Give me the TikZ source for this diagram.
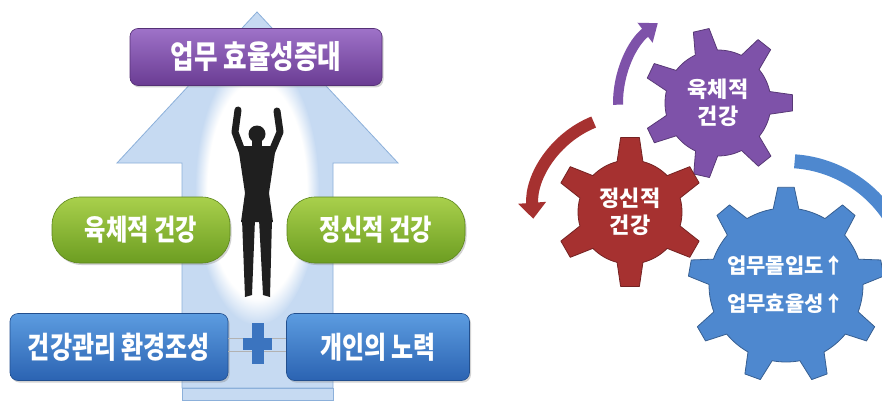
\documentclass[tikz,border=0pt]{standalone}
\usepackage{fontspec}
\setmainfont{Noto Sans CJK KR}
\newfontfamily\krc{Noto Sans CJK KR}[FakeStretch=0.8]
\usetikzlibrary{arrows.meta,shadows,fadings}

\definecolor{arrowfill}{HTML}{C6DAF2}
\definecolor{arrowline}{HTML}{8CB0DA}
\definecolor{violetT}{HTML}{9E72C8}
\definecolor{violetB}{HTML}{6A3C93}
\definecolor{greenT}{HTML}{A9D04C}
\definecolor{greenB}{HTML}{6C9D21}
\definecolor{blueT}{HTML}{5C9CE0}
\definecolor{blueB}{HTML}{2B63B2}
\definecolor{plusblue}{HTML}{3B74BF}
\definecolor{gearviolet}{HTML}{7E52A9}
\definecolor{gearred}{HTML}{A63130}
\definecolor{gearblue}{HTML}{4E88CF}

\tikzset{
  panel/.style={rounded corners=8pt, line width=0.6pt, text=white, inner sep=0pt,
    drop shadow={opacity=0.35, shadow xshift=1.5pt, shadow yshift=-2pt}},
  goalbox/.style={panel, top color=violetT, bottom color=violetB, draw=violetB!80!black,
    minimum width=252pt, minimum height=57pt},
  pill/.style={panel, rounded corners=28pt, top color=greenT, bottom color=greenB,
    draw=greenB!85!black, minimum width=178pt, minimum height=66pt},
  basebox/.style={panel, top color=blueT, bottom color=blueB, draw=blueB!80!black,
    minimum height=67pt},
  boxfont/.style={font=\krc\bfseries\fontsize{#1}{#1}\selectfont},
  geartext/.style={text=white, align=center, font=\bfseries\fontsize{22}{27}\selectfont},
}

% gear: colour, centre, body radius, tip radius, teeth, angle of first tooth
\newcommand{\gear}[6]{%
  \begin{scope}[shift={#2}]
    \pgfmathsetmacro\gp{360/#5}
    \pgfmathsetmacro\gb{0.24*\gp}
    \pgfmathsetmacro\gt{0.12*\gp}
    \filldraw[fill=#1, draw=#1!70!black, line width=0.8pt, line join=round]
      ({#6+\gb}:#3pt)
      \foreach \k [evaluate=\k as \ga using #6+\k*\gp] in {1,...,#5} {
        arc[start angle=\ga-\gp+\gb, end angle=\ga-\gb, radius=#3pt]
        -- ({\ga-\gt}:#4pt) -- ({\ga+\gt}:#4pt) -- ({\ga+\gb}:#3pt)
      } -- cycle;
  \end{scope}}

\begin{document}
\begin{tikzpicture}[x=1pt,y=1pt]
  \useasboundingbox[fill=white] (0,0) rectangle (882,405);

  % big arrow
  \draw[arrowline, fill=arrowfill, line width=0.8pt]
    (182,17) -- (182,242) -- (117,242) -- (257,393) -- (398,242) -- (333,242) -- (333,17) -- cycle;
  \draw[arrowline, fill=arrowfill, line width=0.8pt] (182,5) rectangle (333,17);
  \fill[white, path fading=circle with fuzzy edge 20 percent] (257,215) ellipse (62 and 135);

  % figure with raised arms
  \begin{scope}[black!88]
    \fill (257,271) circle (8.5);
    \fill (252,258) rectangle (262,266);
    \fill (238,259) -- (276,259) -- (269,212) -- (273,183) -- (241,183) -- (245,212) -- cycle;
    \draw[line width=7pt, line cap=round, line join=round] (242,254) -- (235,273) -- (238,295);
    \draw[line width=7pt, line cap=round, line join=round] (272,254) -- (280,273) -- (277,294);
    \fill (242,186) -- (255,186) -- (252,110) -- (245,108) -- cycle;
    \fill (259,186) -- (272,186) -- (270,108) -- (263,110) -- cycle;
  \end{scope}

  % goal and the two kinds of health
  \node[goalbox, boxfont=32] (goal) at (256,348) {업무 효율성증대};
  \node[pill, boxfont=29] (body) at (141,175) {육체적 건강};
  \node[pill, boxfont=29] (mind) at (376,175) {정신적 건강};

  % the base: environment + effort
  \node[basebox, minimum width=218pt, boxfont=30] (env) at (119,58) {건강관리 환경조성};
  \node[basebox, minimum width=183pt, boxfont=30] (effort) at (378,58) {개인의 노력};
  \draw[gray!60, line width=1pt] (env.east |- 0,67) -- (effort.west |- 0,67);
  \draw[gray!60, line width=1pt] (env.east |- 0,54) -- (effort.west |- 0,54);
  \fill[plusblue] (251.5,41) rectangle (263.5,82);
  \fill[plusblue] (243,55) rectangle (272,67);

  % turning arrows round the gears
  \coordinate (cv) at (718,302);
  \coordinate (cr) at (630,193);
  \coordinate (cb) at (786,120);
  \draw[gearviolet, line width=10pt, -{Triangle[length=16pt,width=24pt]}]
    (cv) ++(181:100) arc[start angle=181, end angle=127, radius=100pt];
  \draw[gearred, line width=12pt, -{Triangle[length=16pt,width=27pt]}]
    (cr) ++(112:97) arc[start angle=112, end angle=184, radius=97pt];
  \draw[gearblue, line width=14pt] (cb) ++(86:124) arc[start angle=86, end angle=-20, radius=124pt];

  % gears
  \gear{gearviolet}{(cv)}{53}{75}{7}{103}
  \gear{gearred}{(cr)}{52}{75}{6}{90}
  \gear{gearblue}{(cb)}{77}{98}{9}{90}
  \node[geartext] (physical) at (cv) {육체적\\건강};
  \node[geartext] (mental) at (cr) {정신적\\건강};
  \node[geartext, font=\bfseries\fontsize{21}{38}\selectfont] (work) at (cb) {업무몰입도↑\\업무효율성↑};
\end{tikzpicture}
\end{document}
